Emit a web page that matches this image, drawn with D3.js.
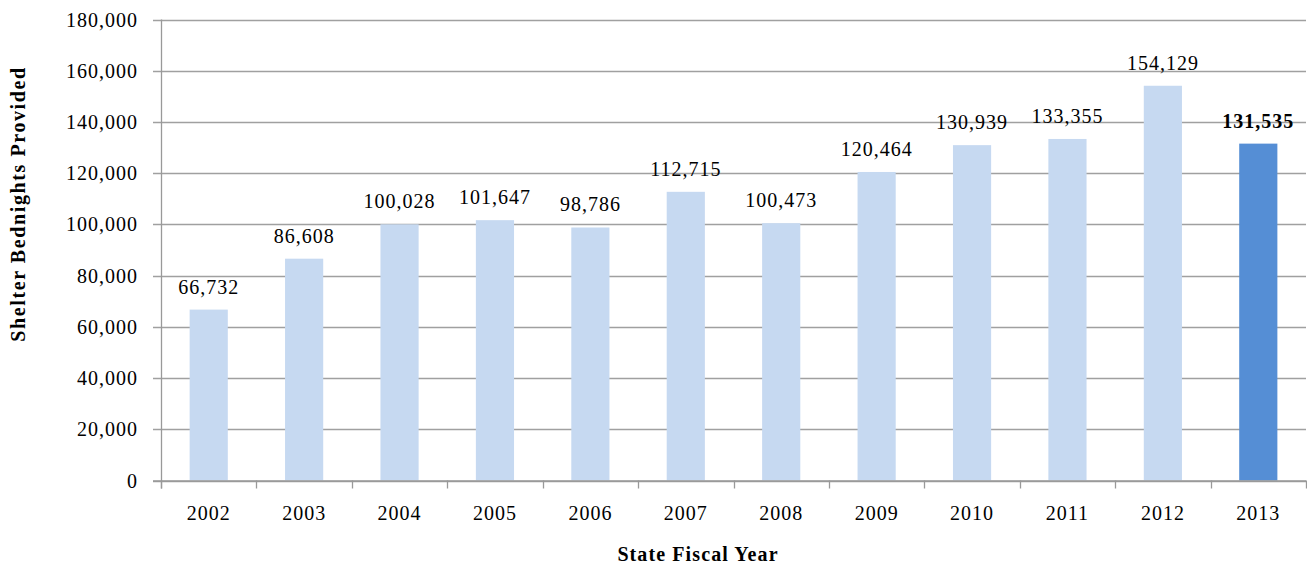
<!DOCTYPE html>
<html>
<head>
  <script type="text/javascript" src="https://cdn.jsdelivr.net/npm/d3@7/dist/d3.min.js" charset="UTF-8"></script>
  <title>Shelter Bednights Provided</title>
  <style>
    body { margin: 0; background: #fff; }
    svg text { font-family: "Liberation Serif", "Times New Roman", serif; fill: #000; }
  </style>
</head>

<body>

<svg width="1307" height="567"></svg>

<script type="text/javascript">

  var years = ["2002", "2003", "2004", "2005", "2006", "2007", "2008", "2009", "2010", "2011", "2012", "2013"];
  var bednights = [66732, 86608, 100028, 101647, 98786, 112715, 100473, 120464, 130939, 133355, 154129, 131535];
  var yTicks = [0, 20000, 40000, 60000, 80000, 100000, 120000, 140000, 160000, 180000];

  // note: "top" is taken by window.top, so plot edges get their own names
  var plotLeft = 161, plotRight = 1306, plotTop = 19.5, plotBottom = 480.5;

  var svg = d3.select( "svg" );

  var x = d3.scaleBand()
      .domain( years )
      .range( [plotLeft, plotRight] )
      .paddingInner( 0.6 )
      .paddingOuter( 0.3 );

  var y = d3.scaleLinear()
      .domain( [0, 180000] )
      .range( [plotBottom, plotTop] );

  var fmt = d3.format( "," );

  // gridlines
  svg.append( "g" )
      .selectAll( "line" )
      .data( yTicks )
      .enter()
      .append( "line" )
      .attr( "x1", plotLeft - 8 )
      .attr( "x2", plotRight )
      .attr( "y1", function ( d ) { return Math.round( y( d ) ) + 0.5; } )
      .attr( "y2", function ( d ) { return Math.round( y( d ) ) + 0.5; } )
      .attr( "stroke", "#a0a0a0" )
      .attr( "stroke-width", 1.3 );

  // y tick labels (letter-spacing widens Liberation toward the Palatino look)
  svg.append( "g" )
      .selectAll( "text" )
      .data( yTicks )
      .enter()
      .append( "text" )
      .attr( "x", 138 )
      .attr( "y", function ( d ) { return y( d ); } )
      .attr( "dy", "0.35em" )
      .attr( "text-anchor", "end" )
      .style( "font-size", "20px" )
      .style( "letter-spacing", "1px" )
      .text( function ( d ) { return fmt( d ); } );

  // bars
  svg.append( "g" )
      .selectAll( "rect" )
      .data( bednights )
      .enter()
      .append( "rect" )
      .attr( "x", function ( d, i ) { return x( years[i] ); } )
      .attr( "y", function ( d ) { return y( d ); } )
      .attr( "width", x.bandwidth() )
      .attr( "height", function ( d ) { return y( 0 ) - y( d ); } )
      .attr( "fill", function ( d, i ) { return i === years.length - 1 ? "#558ed5" : "#c6d9f1"; } );

  // value labels
  svg.append( "g" )
      .selectAll( "text" )
      .data( bednights )
      .enter()
      .append( "text" )
      .attr( "x", function ( d, i ) { return x( years[i] ) + x.bandwidth() / 2; } )
      .attr( "y", function ( d ) { return y( d ) - 16; } )
      .attr( "text-anchor", "middle" )
      .style( "font-size", "20px" )
      .style( "letter-spacing", "1px" )
      .style( "font-weight", function ( d, i ) { return i === years.length - 1 ? "bold" : "normal"; } )
      .text( function ( d ) { return fmt( d ); } );

  // axes lines
  svg.append( "line" )
      .attr( "x1", plotLeft + 0.5 ).attr( "x2", plotLeft + 0.5 )
      .attr( "y1", plotTop ).attr( "y2", plotBottom + 8 )
      .attr( "stroke", "#999" ).attr( "stroke-width", 1.3 );

  svg.append( "line" )
      .attr( "x1", plotLeft - 8 ).attr( "x2", plotRight )
      .attr( "y1", plotBottom + 0.5 ).attr( "y2", plotBottom + 0.5 )
      .attr( "stroke", "#999" ).attr( "stroke-width", 1.3 );

  // x ticks at band boundaries
  var step = x.step();
  svg.append( "g" )
      .selectAll( "line" )
      .data( d3.range( years.length + 1 ) )
      .enter()
      .append( "line" )
      .attr( "x1", function ( i ) { return Math.round( plotLeft + i * step ) + 0.5; } )
      .attr( "x2", function ( i ) { return Math.round( plotLeft + i * step ) + 0.5; } )
      .attr( "y1", plotBottom )
      .attr( "y2", plotBottom + 8 )
      .attr( "stroke", "#999" )
      .attr( "stroke-width", 1.3 );

  // x labels
  svg.append( "g" )
      .selectAll( "text" )
      .data( years )
      .enter()
      .append( "text" )
      .attr( "x", function ( d ) { return x( d ) + x.bandwidth() / 2; } )
      .attr( "y", 520 )
      .attr( "text-anchor", "middle" )
      .style( "font-size", "20px" )
      .style( "letter-spacing", "1px" )
      .text( function ( d ) { return d; } );

  // axis titles
  svg.append( "text" )
      .attr( "x", 698 )
      .attr( "y", 561 )
      .attr( "text-anchor", "middle" )
      .style( "font-size", "20px" )
      .style( "letter-spacing", "1.1px" )
      .style( "font-weight", "bold" )
      .text( "State Fiscal Year" );

  svg.append( "text" )
      .attr( "transform", "translate(25,204) rotate(-90)" )
      .attr( "text-anchor", "middle" )
      .style( "font-size", "20px" )
      .style( "letter-spacing", "1.6px" )
      .style( "font-weight", "bold" )
      .text( "Shelter Bednights Provided" );
</script>

</body>
</html>
